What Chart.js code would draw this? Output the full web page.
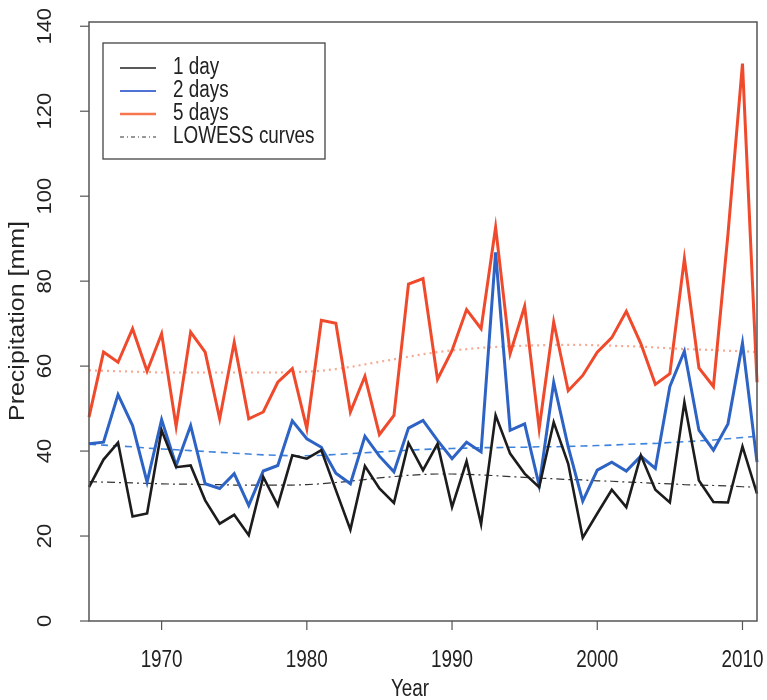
<!DOCTYPE html>
<html>
<head>
<meta charset="utf-8">
<script src="https://cdn.jsdelivr.net/npm/chart.js@4.4.1/dist/chart.umd.min.js"></script>
<style>
  html, body { margin: 0; padding: 0; background: #fff; }
  #wrap { width: 767px; height: 700px; }
</style>
</head>
<body>
<div id="wrap"><canvas id="precipChart" width="767" height="700"></canvas></div>
<script>
// === Data ===
const years = [1965, 1966, 1967, 1968, 1969, 1970, 1971, 1972, 1973, 1974, 1975, 1976,
  1977, 1978, 1979, 1980, 1981, 1982, 1983, 1984, 1985, 1986, 1987,
  1988, 1989, 1990, 1991, 1992, 1993, 1994, 1995, 1996, 1997, 1998,
  1999, 2000, 2001, 2002, 2003, 2004, 2005, 2006, 2007, 2008, 2009, 2010, 2011];

const oneDay = [31.5, 38.0, 42.0, 24.6, 25.3, 44.9, 36.2, 36.6, 28.4, 22.9, 25.0, 20.2,
  33.9, 27.2, 39.0, 38.2, 40.2, 30.8, 21.5, 36.5, 31.2, 27.8, 41.9,
  35.5, 41.7, 26.8, 37.6, 22.8, 48.4, 39.4, 34.7, 31.5, 46.8, 37.0,
  19.6, 25.3, 30.9, 26.8, 39.0, 30.9, 27.9, 51.5, 33.1, 28.0, 27.9, 41.1, 30.0];

const twoDays = [41.7, 42.1, 53.3, 46.0, 32.7, 47.4, 36.6, 46.0, 32.3, 31.2, 34.7, 27.2,
  35.3, 36.6, 47.1, 42.9, 40.9, 34.8, 32.3, 43.5, 38.8, 35.1, 45.4,
  47.2, 42.5, 38.2, 42.1, 39.8, 86.8, 44.9, 46.4, 31.9, 56.2, 41.0,
  28.2, 35.5, 37.4, 35.3, 38.8, 35.9, 55.2, 63.5, 44.9, 40.2, 46.4, 65.4, 37.4];

const fiveDays = [48.0, 63.3, 60.9, 68.8, 58.8, 67.6, 45.8, 68.0, 63.3, 47.6, 65.6, 47.6,
  49.2, 56.2, 59.4, 45.3, 70.8, 70.1, 49.2, 57.6, 43.9, 48.4, 79.3,
  80.6, 56.9, 63.7, 73.3, 68.8, 92.7, 62.9, 74.1, 45.3, 70.4, 54.2,
  57.8, 63.3, 66.7, 72.9, 65.3, 55.7, 58.2, 85.3, 59.6, 55.2, 91.0, 131.2, 56.2];

// LOWESS curves
const lowessOne = [32.8, 32.7, 32.6, 32.5, 32.4, 32.3, 32.2, 32.2, 32.1, 32.1, 32.0, 32.0,
  32.0, 32.0, 32.0, 32.1, 32.3, 32.6, 32.9, 33.3, 33.7, 34.0, 34.3,
  34.5, 34.6, 34.6, 34.5, 34.4, 34.2, 34.0, 33.8, 33.6, 33.5, 33.3,
  33.2, 33.0, 32.9, 32.7, 32.6, 32.4, 32.3, 32.1, 32.0, 31.9, 31.8, 31.6, 31.5];

const lowessTwo = [41.6, 41.4, 41.2, 41.0, 40.7, 40.5, 40.3, 40.1, 39.9, 39.7, 39.5, 39.3,
  39.1, 39.0, 38.9, 38.9, 39.0, 39.2, 39.4, 39.6, 39.8, 40.0, 40.2,
  40.4, 40.5, 40.6, 40.7, 40.8, 40.8, 40.9, 40.9, 41.0, 41.0, 41.1,
  41.2, 41.3, 41.4, 41.6, 41.7, 41.8, 42.0, 42.2, 42.4, 42.6, 42.9, 43.2, 43.5];

const lowessFive = [59.0, 58.9, 58.8, 58.7, 58.6, 58.5, 58.5, 58.5, 58.5, 58.5, 58.5, 58.5,
  58.5, 58.5, 58.6, 58.7, 58.9, 59.3, 59.8, 60.4, 61.0, 61.6, 62.2,
  62.8, 63.3, 63.7, 64.0, 64.3, 64.5, 64.7, 64.8, 64.9, 65.0, 65.0,
  65.0, 64.9, 64.8, 64.7, 64.6, 64.4, 64.2, 64.0, 63.9, 63.8, 63.6, 63.5, 63.3];

const xTicks = [1970, 1980, 1990, 2000, 2010];
const yTicks = [0, 20, 40, 60, 80, 100, 120, 140];

const legendItems = [
  { text: "1 day", color: "#222", width: 1.5, dash: [] },
  { text: "2 days", color: "#4f72d4", width: 2, dash: [] },
  { text: "5 days", color: "#f5764f", width: 2.5, dash: [] },
  { text: "LOWESS curves", color: "#333", width: 1, dash: [4, 3, 1, 3] },
];

const toPoints = (vals) => vals.map((v, i) => ({ x: years[i], y: v }));

// === R-style axes, box and legend ===
const FONT = '23px "Liberation Sans", Arial, sans-serif';
const SQUISH = 0.82; // the reference text is horizontally narrow

function hText(ctx, txt, x, y, align) {
  ctx.save();
  ctx.translate(x, y);
  ctx.scale(SQUISH, 1);
  ctx.textAlign = align;
  ctx.textBaseline = "middle";
  ctx.fillText(txt, 0, 0);
  ctx.restore();
}

function vText(ctx, txt, x, y, font) {
  ctx.save();
  ctx.font = font;
  ctx.translate(x, y);
  ctx.rotate(-Math.PI / 2);
  ctx.scale(1, 0.9);
  ctx.textAlign = "center";
  ctx.textBaseline = "middle";
  ctx.fillText(txt, 0, 0);
  ctx.restore();
}

const rAxes = {
  id: "rAxes",
  afterDraw(chart) {
    const { ctx, chartArea: a, scales } = chart;
    const xs = scales.x, ys = scales.y;
    ctx.save();
    ctx.strokeStyle = "#555";
    ctx.lineWidth = 1.5;
    ctx.strokeRect(a.left, a.top, a.right - a.left, a.bottom - a.top);

    ctx.fillStyle = "#222";
    ctx.font = FONT;
    ctx.lineWidth = 1.2;
    ctx.strokeStyle = "#555";
    xTicks.forEach((t) => {
      const px = xs.getPixelForValue(t);
      ctx.beginPath();
      ctx.moveTo(px, a.bottom);
      ctx.lineTo(px, a.bottom + 9);
      ctx.stroke();
      hText(ctx, String(t), px, 661, "center");
    });
    yTicks.forEach((t) => {
      const py = ys.getPixelForValue(t);
      ctx.beginPath();
      ctx.moveTo(a.left, py);
      ctx.lineTo(a.left - 9, py);
      ctx.stroke();
      vText(ctx, String(t), 46, py, '22px "Liberation Sans", Arial, sans-serif');
    });
    hText(ctx, "Year", (a.left + a.right) / 2 - 13, 690, "center");
    vText(ctx, "Precipitation [mm]", 18, 321, '25px "Liberation Sans", Arial, sans-serif');

    // legend
    const lx = 103, ly = 43, lw = 222, lh = 116;
    ctx.fillStyle = "#fff";
    ctx.fillRect(lx, ly, lw, lh);
    ctx.strokeStyle = "#444";
    ctx.lineWidth = 1.3;
    ctx.strokeRect(lx, ly, lw, lh);
    legendItems.forEach((it, i) => {
      const yy = 68 + i * 23;
      ctx.strokeStyle = it.color;
      ctx.lineWidth = it.width;
      ctx.setLineDash(it.dash);
      ctx.beginPath();
      ctx.moveTo(120, yy);
      ctx.lineTo(156, yy);
      ctx.stroke();
      ctx.setLineDash([]);
      ctx.fillStyle = "#222";
      hText(ctx, it.text, 173, yy, "left");
    });
    ctx.restore();
  },
};

const ctx = document.getElementById("precipChart").getContext("2d");
new Chart(ctx, {
  type: "line",
  data: {
    datasets: [
      { label: "LOWESS 5 days", data: toPoints(lowessFive), borderColor: "rgba(245,140,110,0.75)", borderWidth: 2.2, borderDash: [2, 4], order: 6 },
      { label: "LOWESS 2 days", data: toPoints(lowessTwo), borderColor: "#3f84dc", borderWidth: 1.6, borderDash: [7, 5], order: 5 },
      { label: "LOWESS 1 day", data: toPoints(lowessOne), borderColor: "#333", borderWidth: 1.2, borderDash: [8, 4, 2, 4], order: 4 },
      { label: "5 days", data: toPoints(fiveDays), borderColor: "#f04a2c", borderWidth: 3, order: 3 },
      { label: "2 days", data: toPoints(twoDays), borderColor: "#2d63c4", borderWidth: 3, order: 2 },
      { label: "1 day", data: toPoints(oneDay), borderColor: "#1c1c1c", borderWidth: 2.6, order: 1 },
    ],
  },
  options: {
    responsive: false,
    animation: false,
    clip: false,
    elements: {
      point: { radius: 0 },
      line: { tension: 0, fill: false, borderJoinStyle: "miter", borderCapStyle: "butt" },
    },
    layout: { padding: { left: 89, top: 22, right: 10, bottom: 79 } },
    plugins: { legend: { display: false }, tooltip: { enabled: false } },
    scales: {
      x: { type: "linear", min: 1965, max: 2011, display: false },
      y: { type: "linear", min: 0, max: 141, display: false },
    },
  },
  plugins: [rAxes],
});
</script>
</body>
</html>
